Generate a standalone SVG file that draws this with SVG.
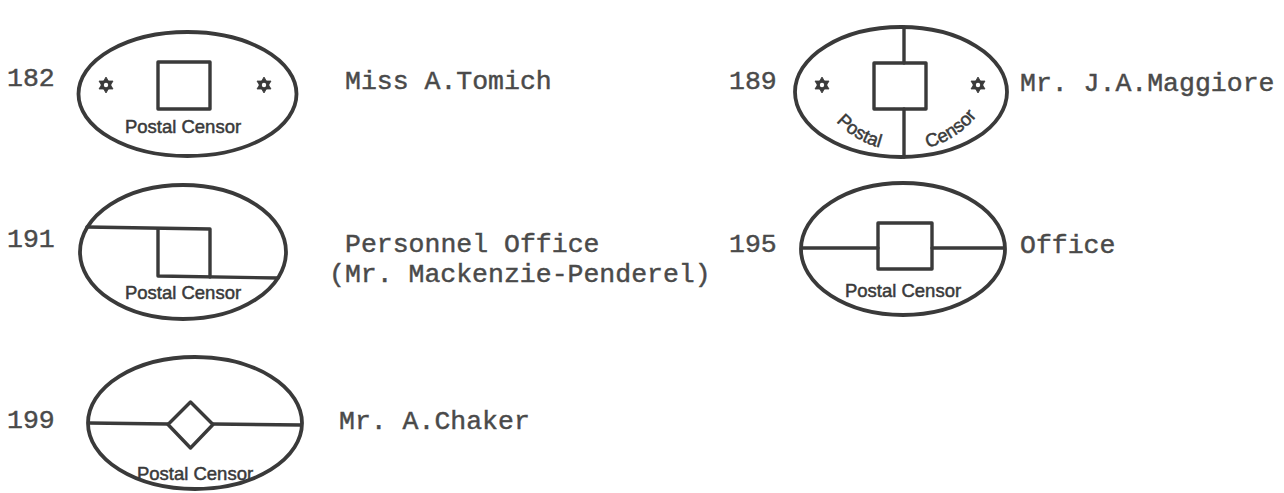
<svg xmlns="http://www.w3.org/2000/svg" xmlns:xlink="http://www.w3.org/1999/xlink" width="1284" height="493" viewBox="0 0 1284 493">
<style>
.ov{fill:none;stroke:#3a3a3a;stroke-width:3.8}
.ln{fill:none;stroke:#3a3a3a;stroke-width:3.4;stroke-linejoin:round;stroke-linecap:round}
.pc{font-family:"Liberation Sans",Arial,sans-serif;font-size:18.5px;fill:#3a3a3a;stroke:#3a3a3a;stroke-width:0.5;text-anchor:middle}
.tw{font-family:"Liberation Mono","Courier New",monospace;font-size:26.5px;fill:#4a4a4a;stroke:#4a4a4a;stroke-width:0.45}
.st{fill:#3a3a3a;stroke:#3a3a3a;stroke-width:0.8;stroke-linejoin:round}
</style>
<defs>
<g id="star"><polygon points="0,-8 7,4 -7,4"/><polygon points="0,8 7,-4 -7,-4"/><circle r="2.2" fill="#fff" stroke="none"/></g>
<path id="arc189" d="M823.5,104.5 A93,93 0 0 0 984.5,104.5"/>
</defs>
<rect width="1284" height="493" fill="#fff"/>

<g id="n182">
<text class="tw" x="7" y="86">182</text>
<ellipse class="ov" cx="187.5" cy="94" rx="109" ry="62"/>
<rect class="ln" x="158" y="62" width="52" height="47"/>
<use href="#star" class="st" x="106" y="85"/>
<use href="#star" class="st" x="264" y="85"/>
<text class="pc" x="183" y="133">Postal Censor</text>
<text class="tw" x="345" y="89">Miss A.Tomich</text>
</g>

<g id="n189">
<text class="tw" x="729" y="89">189</text>
<ellipse class="ov" cx="901" cy="92" rx="106" ry="65"/>
<line class="ln" x1="904" y1="27" x2="904" y2="63"/>
<line class="ln" x1="904" y1="109" x2="904" y2="157"/>
<rect class="ln" x="874" y="63" width="52" height="46"/>
<use href="#star" class="st" x="822" y="85"/>
<use href="#star" class="st" x="978" y="85"/>
<text class="pc"><textPath href="#arc189" startOffset="47">Postal</textPath></text>
<text class="pc"><textPath href="#arc189" startOffset="151">Censor</textPath></text>
<text class="tw" x="1020" y="91">Mr. J.A.Maggiore</text>
</g>

<g id="n191">
<text class="tw" x="7" y="247">191</text>
<ellipse class="ov" cx="183" cy="252" rx="103" ry="67"/>
<polyline class="ln" points="87,227 210,229 210,277"/>
<polyline class="ln" points="158,229 158,276 278,278"/>
<text class="pc" x="183" y="299">Postal Censor</text>
<text class="tw" x="345" y="252">Personnel Office</text>
<text class="tw" x="329" y="282">(Mr. Mackenzie-Penderel)</text>
</g>

<g id="n195">
<text class="tw" x="729" y="252">195</text>
<ellipse class="ov" cx="903" cy="249" rx="102" ry="66"/>
<line class="ln" x1="803" y1="248" x2="878" y2="248"/>
<line class="ln" x1="932" y1="248" x2="1004" y2="248"/>
<rect class="ln" x="878" y="223" width="54" height="46"/>
<text class="pc" x="903" y="297">Postal Censor</text>
<text class="tw" x="1020" y="253">Office</text>
</g>

<g id="n199">
<text class="tw" x="7" y="428">199</text>
<ellipse class="ov" cx="195" cy="423" rx="107" ry="66"/>
<line class="ln" x1="89" y1="423" x2="168" y2="424"/>
<line class="ln" x1="213" y1="424" x2="301" y2="425"/>
<polygon class="ln" points="190.5,402 213,424.5 190.5,448 168,424.5"/>
<text class="pc" x="195" y="480">Postal Censor</text>
<text class="tw" x="339" y="429">Mr. A.Chaker</text>
</g>
</svg>
